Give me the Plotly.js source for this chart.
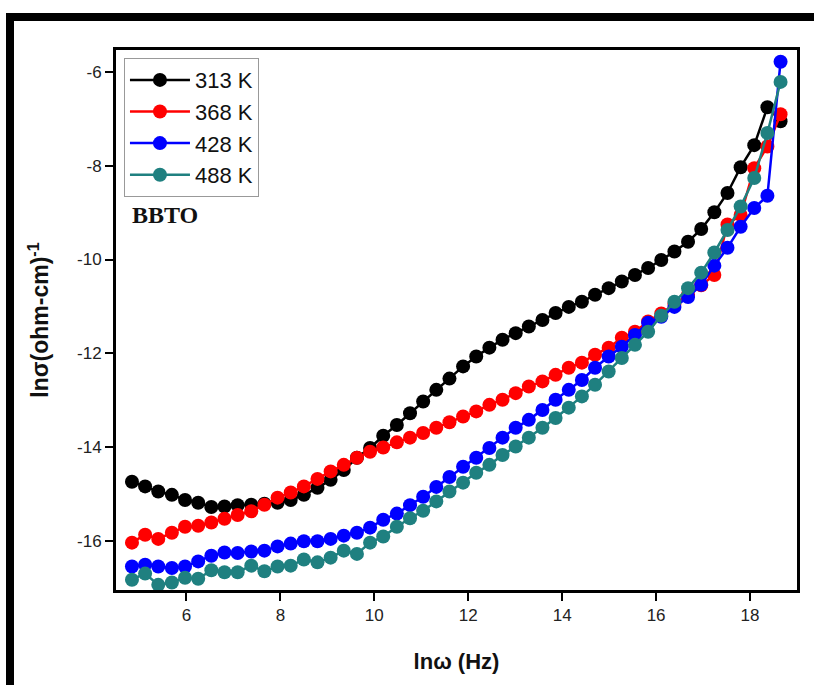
<!DOCTYPE html>
<html>
<head>
<meta charset="utf-8">
<script src="https://cdn.plot.ly/plotly-3.0.1.min.js"></script>
<style>
  html, body { margin: 0; padding: 0; background: #fff; }
  #chart { width: 814px; height: 685px; }
  #frame { position: absolute; left: 6px; top: 13px; width: 820px; height: 700px;
           border-left: 8px solid #000; border-top: 8px solid #000; pointer-events: none; }
</style>
</head>
<body>
<div id="chart"></div>
<div id="frame"></div>
<script>
const lnOmega = [4.84, 5.12, 5.40, 5.69, 5.97, 6.25, 6.53, 6.81, 7.09, 7.38,
  7.66, 7.94, 8.22, 8.50, 8.79, 9.07, 9.35, 9.63, 9.91, 10.19,
  10.48, 10.76, 11.04, 11.32, 11.60, 11.89, 12.17, 12.45, 12.73, 13.01,
  13.29, 13.58, 13.86, 14.14, 14.42, 14.70, 14.99, 15.27, 15.55, 15.83,
  16.11, 16.39, 16.68, 16.96, 17.24, 17.52, 17.80, 18.09, 18.37, 18.65];

const seriesNames = ["313 K", "368 K", "428 K", "488 K"];
const seriesColors = ["#000000", "#ff0000", "#0000ff", "#1f8080"];

const sigma313 = [-14.74, -14.84, -14.95, -15.02, -15.13, -15.19, -15.28, -15.27, -15.24, -15.23,
  -15.21, -15.19, -15.13, -15.02, -14.87, -14.70, -14.49, -14.23, -14.02, -13.76,
  -13.53, -13.28, -13.03, -12.78, -12.54, -12.28, -12.07, -11.88, -11.71, -11.57,
  -11.43, -11.29, -11.14, -11.01, -10.90, -10.75, -10.61, -10.47, -10.33, -10.18,
  -10.01, -9.83, -9.62, -9.35, -8.99, -8.58, -8.03, -7.56, -6.75, -7.05];

const sigma368 = [-16.04, -15.87, -15.96, -15.83, -15.70, -15.68, -15.61, -15.53, -15.45, -15.37,
  -15.23, -15.08, -14.97, -14.84, -14.68, -14.52, -14.38, -14.23, -14.10, -14.01,
  -13.90, -13.80, -13.70, -13.59, -13.47, -13.35, -13.24, -13.10, -12.99, -12.85,
  -12.71, -12.60, -12.46, -12.31, -12.20, -12.03, -11.88, -11.67, -11.54, -11.32,
  -11.15, -10.95, -10.75, -10.55, -10.33, -9.25, -9.05, -8.05, -7.59, -6.90];

const sigma428 = [-16.55, -16.51, -16.55, -16.58, -16.55, -16.44, -16.32, -16.25, -16.26, -16.23,
  -16.21, -16.12, -16.06, -16.01, -16.01, -15.96, -15.89, -15.83, -15.72, -15.55,
  -15.42, -15.24, -15.06, -14.85, -14.64, -14.42, -14.23, -14.02, -13.80, -13.59,
  -13.42, -13.21, -12.99, -12.78, -12.57, -12.31, -12.07, -11.86, -11.61, -11.35,
  -11.22, -11.01, -10.80, -10.54, -10.13, -9.75, -9.30, -8.90, -8.64, -5.78];

const sigma488 = [-16.83, -16.70, -16.94, -16.89, -16.79, -16.81, -16.63, -16.67, -16.67, -16.53,
  -16.65, -16.55, -16.53, -16.40, -16.46, -16.36, -16.21, -16.28, -16.04, -15.91,
  -15.70, -15.52, -15.36, -15.16, -14.95, -14.76, -14.55, -14.38, -14.17, -13.99,
  -13.80, -13.59, -13.38, -13.16, -12.92, -12.67, -12.39, -12.10, -11.82, -11.54,
  -11.20, -10.90, -10.61, -10.28, -9.85, -9.37, -8.87, -8.26, -7.30, -6.21];

const xTickVals = [6, 8, 10, 12, 14, 16, 18];
const xTickText = ["6", "8", "10", "12", "14", "16", "18"];
const yTickVals = [-16, -14, -12, -10, -8, -6];
const yTickText = ["-16", "-14", "-12", "-10", "-8", "-6"];

const allY = [sigma313, sigma368, sigma428, sigma488];
const traces = allY.map((ys, i) => ({
  type: "scatter",
  mode: "lines+markers",
  x: lnOmega,
  y: ys,
  name: seriesNames[i],
  line: { color: seriesColors[i], width: 2.5 },
  marker: { color: seriesColors[i], size: 14 }
}));

const font = "Arial, 'Liberation Sans', sans-serif";

const layout = {
  width: 814,
  height: 685,
  margin: { l: 116, r: 17, t: 50, b: 95 },
  paper_bgcolor: "#fff",
  plot_bgcolor: "#fff",
  showlegend: true,
  font: { family: font, color: "#111" },
  xaxis: {
    range: [4.5, 19.0],
    tickvals: xTickVals,
    ticktext: xTickText,
    ticks: "outside",
    ticklen: 8,
    tickwidth: 2,
    tickcolor: "#000",
    showline: true,
    linewidth: 3,
    linecolor: "#000",
    mirror: true,
    showgrid: false,
    zeroline: false,
    tickfont: { size: 17, family: font, color: "#222" },
    title: { text: "<b>lnω (Hz)</b>", font: { size: 22, family: font, color: "#111" }, standoff: 30 }
  },
  yaxis: {
    range: [-17.05, -5.53],
    tickvals: yTickVals,
    ticktext: yTickText,
    ticks: "outside",
    ticklen: 8,
    tickwidth: 2,
    tickcolor: "#000",
    showline: true,
    linewidth: 3,
    linecolor: "#000",
    mirror: true,
    showgrid: false,
    zeroline: false,
    tickfont: { size: 17, family: font, color: "#222" },
    title: { text: "<b>lnσ(ohm-cm)<sup>-1</sup></b>", font: { size: 23, family: font, color: "#111" }, standoff: 22 }
  },
  legend: {
    x: 0.0117, y: 0.985, xanchor: "left", yanchor: "top",
    bgcolor: "#fff",
    bordercolor: "#999",
    borderwidth: 1,
    itemwidth: 60,
    font: { size: 22, family: font, color: "#111" },
    tracegroupgap: 0
  },
  annotations: [{
    xref: "paper", yref: "paper",
    x: 0.0206, y: 0.694, xanchor: "left", yanchor: "middle",
    text: "<b>BBTO</b>",
    showarrow: false,
    font: { size: 24, family: "'Liberation Serif', 'Times New Roman', serif", color: "#111" }
  }]
};

Plotly.newPlot("chart", traces, layout, { staticPlot: true, displayModeBar: false });
</script>
</body>
</html>
